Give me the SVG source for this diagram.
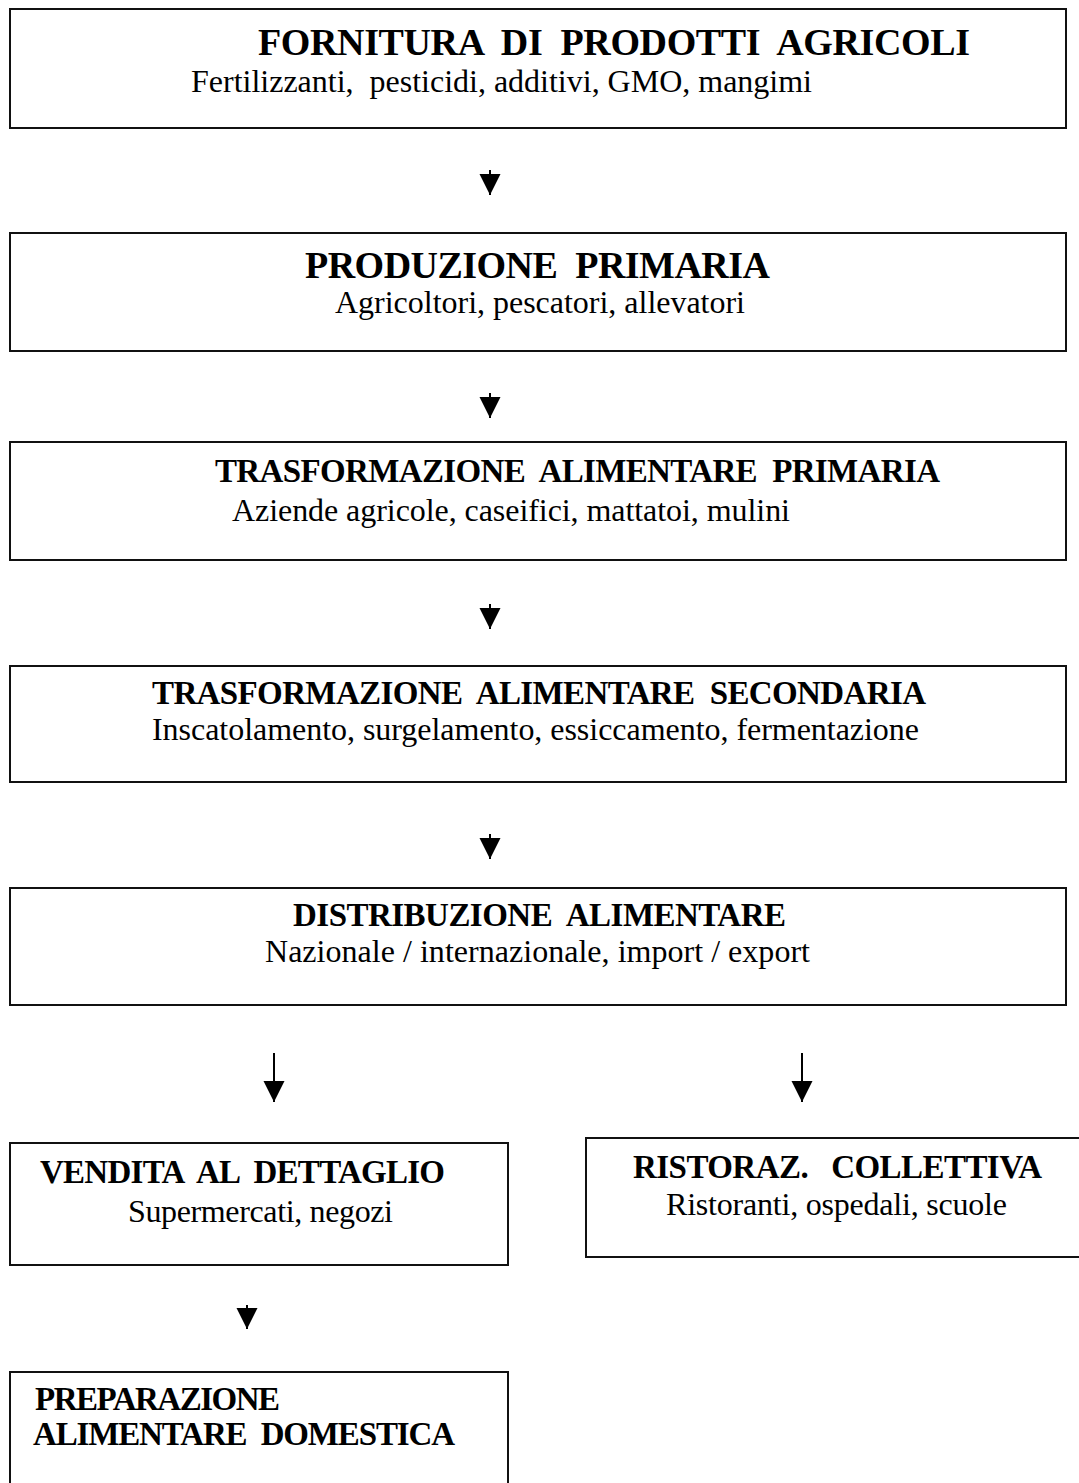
<svg xmlns="http://www.w3.org/2000/svg" width="1079" height="1483" viewBox="0 0 1079 1483">
<style>
.box{fill:#fff;stroke:#111;stroke-width:2}
.t{font-family:"Liberation Serif","Times New Roman",serif;font-weight:bold;font-size:33px;fill:#000;white-space:pre}
.t37{font-size:38px}
.s{font-family:"Liberation Serif","Times New Roman",serif;font-size:32px;fill:#000;white-space:pre}
.c{stroke:#000;stroke-width:2;fill:none;marker-end:url(#ah)}
</style>
<defs>
<marker id="ah" markerUnits="userSpaceOnUse" markerWidth="22" markerHeight="22" viewBox="0 -11 21 22" refX="21" refY="0" orient="auto">
<path d="M0,-10.5 L21,0 L0,10.5 Z" fill="#000"/>
</marker>
</defs>
<rect width="1079" height="1483" fill="#fff"/>
<g id="n1">
<rect class="box" x="10" y="9" width="1056" height="119"/>
<text class="t t37" x="258" y="55" textLength="712">FORNITURA  DI  PRODOTTI  AGRICOLI</text>
<text class="s" x="191" y="92" textLength="621">Fertilizzanti,  pesticidi, additivi, GMO, mangimi</text>
</g>
<g id="n2">
<rect class="box" x="10" y="233" width="1056" height="118"/>
<text class="t t37" x="305" y="278" textLength="465">PRODUZIONE  PRIMARIA</text>
<text class="s" x="335" y="313" textLength="410">Agricoltori, pescatori, allevatori</text>
</g>
<g id="n3">
<rect class="box" x="10" y="442" width="1056" height="118"/>
<text class="t" x="215" y="482" textLength="725">TRASFORMAZIONE  ALIMENTARE  PRIMARIA</text>
<text class="s" x="232" y="521" textLength="558">Aziende agricole, caseifici, mattatoi, mulini</text>
</g>
<g id="n4">
<rect class="box" x="10" y="666" width="1056" height="116"/>
<text class="t" x="152" y="704" textLength="774">TRASFORMAZIONE  ALIMENTARE  SECONDARIA</text>
<text class="s" x="152" y="740" textLength="767">Inscatolamento, surgelamento, essiccamento, fermentazione</text>
</g>
<g id="n5">
<rect class="box" x="10" y="888" width="1056" height="117"/>
<text class="t" x="293" y="926" textLength="493">DISTRIBUZIONE  ALIMENTARE</text>
<text class="s" x="265" y="962" textLength="545">Nazionale / internazionale, import / export</text>
</g>
<g id="n6">
<rect class="box" x="10" y="1143" width="498" height="122"/>
<text class="t" x="40" y="1183" textLength="405">VENDITA  AL  DETTAGLIO</text>
<text class="s" x="128" y="1222" textLength="265">Supermercati, negozi</text>
</g>
<g id="n7">
<rect class="box" x="586" y="1138" width="510" height="119"/>
<text class="t" x="633" y="1178" textLength="409">RISTORAZ.   COLLETTIVA</text>
<text class="s" x="666" y="1215" textLength="341">Ristoranti, ospedali, scuole</text>
</g>
<g id="n8">
<rect class="box" x="10" y="1372" width="498" height="130"/>
<text class="t" x="35" y="1410" textLength="245">PREPARAZIONE</text>
<text class="t" x="33" y="1445" textLength="422">ALIMENTARE  DOMESTICA</text>
</g>
<g id="connectors">
<line class="c" x1="490" y1="170" x2="490" y2="195"/>
<line class="c" x1="490" y1="393" x2="490" y2="418"/>
<line class="c" x1="490" y1="604" x2="490" y2="629"/>
<line class="c" x1="490" y1="834" x2="490" y2="859"/>
<line class="c" x1="274" y1="1053" x2="274" y2="1102"/>
<line class="c" x1="802" y1="1053" x2="802" y2="1102"/>
<line class="c" x1="247" y1="1305" x2="247" y2="1329"/>
</g>
</svg>
